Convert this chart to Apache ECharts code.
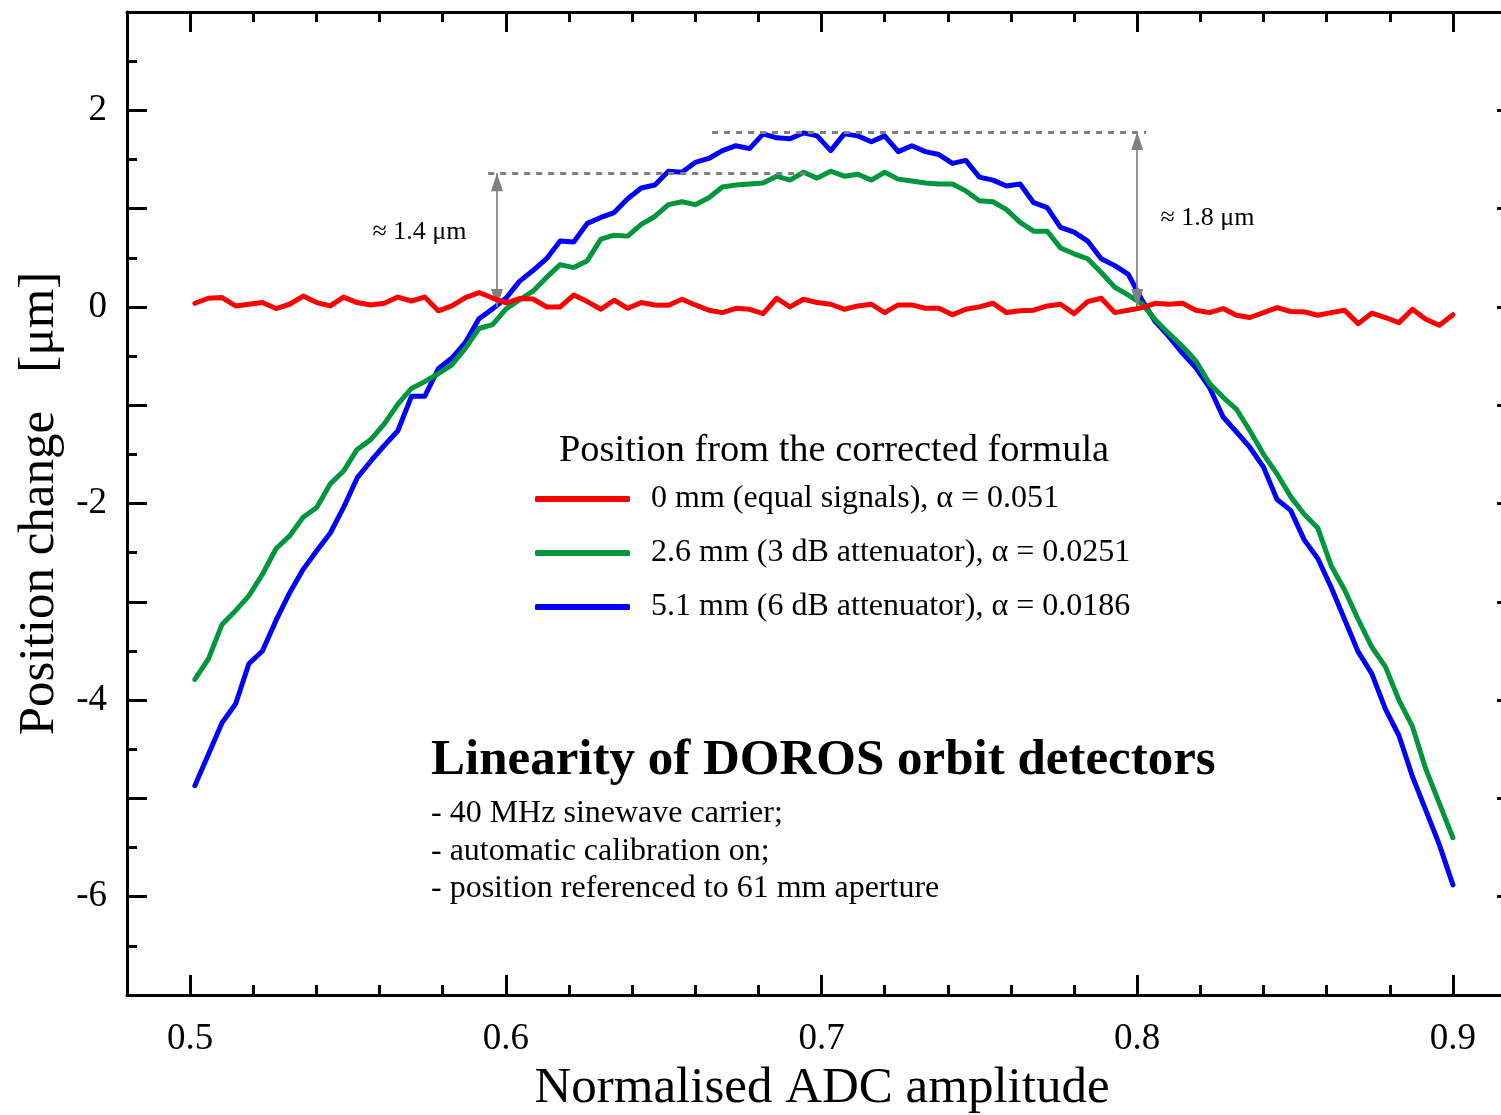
<!DOCTYPE html>
<html><head><meta charset="utf-8">
<script src="https://cdn.jsdelivr.net/npm/echarts@6/dist/echarts.min.js"></script>
<style>html,body{margin:0;padding:0;background:#fff}#chart{width:1501px;height:1115px}</style>
</head><body><div id="chart"></div>
<script>
const xValues = [0.5015,0.5058,0.5101,0.5144,0.5186,0.5229,0.5272,0.5315,0.5358,0.5401,
0.5444,0.5486,0.5529,0.5572,0.5615,0.5658,0.5701,0.5743,0.5786,0.5829,
0.5872,0.5915,0.5958,0.6001,0.6043,0.6086,0.6129,0.6172,0.6215,0.6258,
0.6301,0.6343,0.6386,0.6429,0.6472,0.6515,0.6558,0.6600,0.6643,0.6686,
0.6729,0.6772,0.6815,0.6858,0.6900,0.6943,0.6986,0.7029,0.7072,0.7115,
0.7158,0.7200,0.7243,0.7286,0.7329,0.7372,0.7415,0.7457,0.7500,0.7543,
0.7586,0.7629,0.7672,0.7715,0.7757,0.7800,0.7843,0.7886,0.7929,0.7972,
0.8015,0.8057,0.8100,0.8143,0.8186,0.8229,0.8272,0.8314,0.8357,0.8400,
0.8443,0.8486,0.8529,0.8572,0.8614,0.8657,0.8700,0.8743,0.8786,0.8829,
0.8872,0.8914,0.8957,0.9000];

const red0mm = [0.037,0.088,0.095,0.010,0.027,0.044,-0.017,0.027,0.110,0.044,
0.010,0.100,0.044,0.020,0.037,0.100,0.060,0.100,-0.040,0.010,
0.095,0.146,0.090,0.040,0.085,0.080,0.000,0.000,0.120,0.054,
-0.024,0.068,-0.014,0.044,0.020,0.017,0.078,0.020,-0.034,-0.058,
-0.014,-0.024,-0.068,0.088,0.000,0.078,0.044,0.027,-0.024,0.010,
0.027,-0.058,0.020,0.020,-0.014,-0.014,-0.080,-0.024,0.000,0.037,
-0.058,-0.040,-0.034,0.010,0.027,-0.068,0.054,0.088,-0.058,-0.034,
-0.007,0.037,0.027,0.037,-0.034,-0.058,-0.017,-0.085,-0.108,-0.058,
-0.007,-0.047,-0.050,-0.085,-0.058,-0.034,-0.170,-0.064,-0.108,-0.160,
-0.024,-0.125,-0.186,-0.080];

const green26mm = [-3.79,-3.58,-3.23,-3.09,-2.94,-2.72,-2.46,-2.33,-2.14,-2.04,
-1.80,-1.67,-1.45,-1.35,-1.19,-0.99,-0.83,-0.76,-0.68,-0.59,
-0.42,-0.22,-0.18,-0.02,0.07,0.16,0.30,0.43,0.40,0.47,
0.69,0.73,0.72,0.84,0.92,1.04,1.07,1.04,1.11,1.22,
1.24,1.25,1.26,1.33,1.29,1.37,1.31,1.38,1.33,1.35,
1.29,1.37,1.30,1.28,1.26,1.25,1.25,1.18,1.08,1.07,
0.99,0.86,0.77,0.77,0.60,0.54,0.49,0.35,0.20,0.12,
0.03,-0.13,-0.27,-0.40,-0.55,-0.78,-0.92,-1.04,-1.26,-1.50,
-1.70,-1.93,-2.11,-2.25,-2.63,-2.88,-3.18,-3.46,-3.66,-4.00,
-4.27,-4.70,-5.05,-5.40];

const blue51mm = [-4.87,-4.55,-4.23,-4.04,-3.63,-3.50,-3.19,-2.91,-2.67,-2.48,
-2.30,-2.04,-1.74,-1.57,-1.41,-1.26,-0.91,-0.91,-0.63,-0.52,
-0.36,-0.12,-0.02,0.09,0.26,0.37,0.49,0.67,0.66,0.85,
0.91,0.96,1.10,1.21,1.24,1.38,1.37,1.47,1.51,1.59,
1.64,1.61,1.76,1.72,1.71,1.77,1.74,1.59,1.76,1.74,
1.68,1.74,1.58,1.64,1.58,1.55,1.46,1.49,1.32,1.29,
1.23,1.25,1.06,1.01,0.81,0.76,0.67,0.49,0.42,0.33,
0.07,-0.15,-0.30,-0.47,-0.62,-0.82,-1.12,-1.27,-1.43,-1.63,
-1.96,-2.07,-2.37,-2.56,-2.85,-3.18,-3.51,-3.73,-4.09,-4.36,
-4.78,-5.12,-5.47,-5.88];

const seriesNames = ['0 mm (equal signals), α = 0.051', '2.6 mm (3 dB attenuator), α = 0.0251', '5.1 mm (6 dB attenuator), α = 0.0186'];
const xMajorTicks = [0.5, 0.6, 0.7, 0.8, 0.9];
const xMinorTicks = [0.52,0.54,0.56,0.58,0.62,0.64,0.66,0.68,0.72,0.74,0.76,0.78,0.82,0.84,0.86,0.88];
const yMajorTicks = [-7,-6,-5,-4,-3,-2,-1,0,1,2,3];
const yLabelValues = [-6,-4,-2,0,2];
const yMinorTicks = [-6.5,-5.5,-4.5,-3.5,-2.5,-1.5,-0.5,0.5,1.5,2.5];
const refLevels = [{y:0, from:0.4905, to:0.921},{y:1.36, from:0.5944, to:0.695},{y:1.78, from:0.6653, to:0.8028}];
const spanArrows = [{x:0.5972, from:0, to:1.36},{x:0.8, from:0, to:1.78}];
const spanLabels = [{x:0.5877, y:0.76, text:'≈ 1.4 μm', side:'left'},{x:0.8072, y:0.905, text:'≈ 1.8 μm', side:'right'}];

const FONT = 'Liberation Serif';
const colors = ['#ff0000', '#00963c', '#0000ff'];
const X_MIN = 0.48, X_MAX = 0.9203;
// arrowhead whose tip sits at the centre of its box, so it lands exactly on the line end
const ARROW_HEAD = 'path://M0,0 L6,18 L-6,18 Z M0,-18 L0,-18';

function xAxisCfg(pos, ticks, len, major) {
  return {
    type: 'value', position: pos, min: X_MIN, max: X_MAX,
    axisLine: {show: major, onZero: false, lineStyle: {color: '#000', width: 3}},
    axisTick: {show: true, inside: true, length: len, customValues: ticks, lineStyle: {color: '#000', width: 3}},
    axisLabel: (major && pos === 'bottom') ? {show: true, customValues: xMajorTicks, formatter: v => v.toFixed(1), fontFamily: FONT, fontSize: 37, color: '#000', margin: 26} : {show: false},
    splitLine: {show: false},
    name: (major && pos === 'bottom') ? 'Normalised ADC amplitude' : '',
    nameLocation: 'middle', nameGap: 68,
    nameTextStyle: {fontFamily: FONT, fontSize: 51, color: '#000'}
  };
}
function yAxisCfg(pos, ticks, len, major, labels) {
  return {
    type: 'value', position: pos, min: -7, max: 3,
    axisLine: {show: major, onZero: false, lineStyle: {color: '#000', width: 3}},
    axisTick: {show: true, inside: true, length: len, customValues: ticks, lineStyle: {color: '#000', width: 3}},
    axisLabel: labels ? {show: true, customValues: yLabelValues, formatter: v => String(v), fontFamily: FONT, fontSize: 37, color: '#000', margin: 20} : {show: false},
    splitLine: {show: false},
    name: labels ? 'Position change   [μm]' : '',
    nameLocation: 'middle', nameGap: 62,
    nameTextStyle: {fontFamily: FONT, fontSize: 51, color: '#000'}
  };
}

const lineSeries = [blue51mm, green26mm, red0mm].map((vals, k) => {
  const idx = 2 - k;
  return {
    type: 'line', name: seriesNames[idx], xAxisIndex: 0, yAxisIndex: 0,
    data: xValues.map((x, i) => [x, vals[i]]),
    showSymbol: false, symbol: 'none', smooth: false, z: 3 + k,
    lineStyle: {color: colors[idx], width: 5, join: 'round', cap: 'round'},
    itemStyle: {color: colors[idx]},
    silent: true
  };
});

const option = {
  animation: false,
  backgroundColor: '#fff',
  grid: {left: 127, top: 12, width: 1390, height: 983, containLabel: false, outerBoundsMode: 'none'},
  xAxis: [
    xAxisCfg('bottom', xMajorTicks, 20, true),
    xAxisCfg('bottom', xMinorTicks, 10, false),
    xAxisCfg('top', xMajorTicks, 20, true),
    xAxisCfg('top', xMinorTicks, 10, false)
  ],
  yAxis: [
    yAxisCfg('left', yMajorTicks, 20, true, true),
    yAxisCfg('left', yMinorTicks, 10, false, false),
    yAxisCfg('right', yMajorTicks, 20, true, false)
  ],
  title: [
    {text: 'Position from the corrected formula', left: 559, top: 429, padding: 0,
     textStyle: {fontFamily: FONT, fontSize: 38.4, fontWeight: 'normal', color: '#000', lineHeight: 44}},
    {text: 'Linearity of DOROS orbit detectors', left: 431, top: 731, padding: 0,
     textStyle: {fontFamily: FONT, fontSize: 51, fontWeight: 'bold', color: '#000', lineHeight: 60}},
    {text: '- 40 MHz sinewave carrier;\n- automatic calibration on;\n- position referenced to 61 mm aperture', left: 431, top: 795, padding: 0,
     textStyle: {fontFamily: FONT, fontSize: 32, fontWeight: 'normal', color: '#000', lineHeight: 37.5}}
  ],
  legend: {
    data: seriesNames, orient: 'vertical', left: 535, top: 482, padding: 0,
    itemWidth: 95, itemHeight: 6, itemGap: 20, icon: 'roundRect', selectedMode: false,
    textStyle: {fontFamily: FONT, fontSize: 32, color: '#000', lineHeight: 34, padding: [0, 0, 0, 16]}
  },
  series: [
    {
      type: 'scatter', name: 'refLevels', data: [], silent: true, z: 1,
      markLine: {
        silent: true, symbol: 'none', animation: false,
        label: {show: false},
        lineStyle: {color: '#808080', width: 3, type: [6, 6]},
        emphasis: {disabled: true},
        data: refLevels.map(r => [{coord: [r.from, r.y]}, {coord: [r.to, r.y]}])
      }
    },
    ...lineSeries,
    {
      type: 'scatter', name: 'spanArrows', data: [], silent: true, z: 20, zlevel: 1,
      markLine: {
        silent: true, symbol: [ARROW_HEAD, ARROW_HEAD], symbolSize: [12, 36], animation: false,
        label: {show: false},
        lineStyle: {color: '#808080', width: 1.7, type: 'solid', opacity: 1},
        itemStyle: {color: '#808080', opacity: 1},
        emphasis: {disabled: true},
        data: spanArrows.map(a => [{coord: [a.x, a.from]}, {coord: [a.x, a.to]}])
      }
    },
    {
      type: 'scatter', name: 'spanLabels', silent: true, z: 20, zlevel: 1, symbolSize: 1,
      itemStyle: {color: 'rgba(255,255,255,0)', opacity: 1},
      label: {show: true, distance: 0, fontFamily: FONT, fontSize: 26, color: '#000', opacity: 1},
      data: spanLabels.map(a => ({value: [a.x, a.y], label: {position: a.side, formatter: a.text}}))
    }
  ]
};

const chart = echarts.init(document.getElementById('chart'), null, {renderer: 'canvas'});
chart.setOption(option);
</script></body></html>
